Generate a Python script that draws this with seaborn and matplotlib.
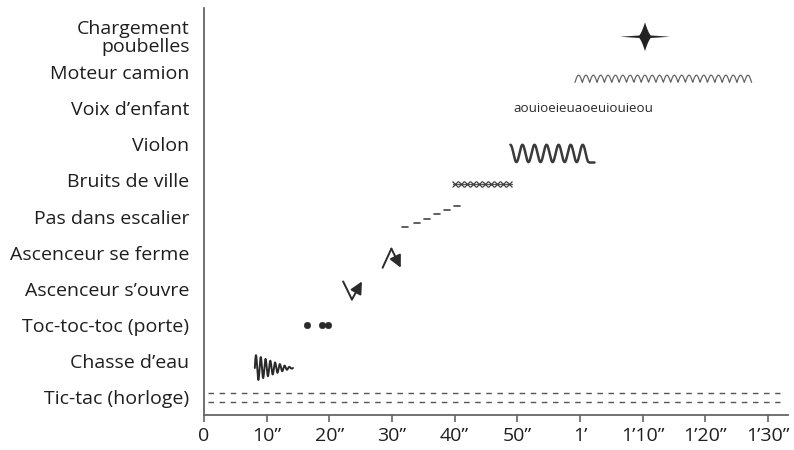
# plot.py - timeline of sounds heard in the sound piece (recreated chart)
import numpy as np
import matplotlib
matplotlib.use("Agg")
import matplotlib.pyplot as plt
import seaborn as sns

# --- data: rows, bottom to top ---
sounds = [
    "Tic-tac (horloge)",
    "Chasse d’eau",
    "Toc-toc-toc (porte)",
    "Ascenceur s’ouvre",
    "Ascenceur se ferme",
    "Pas dans escalier",
    "Bruits de ville",
    "Violon",
    "Voix d’enfant",
    "Moteur camion",
    "Chargement\npoubelles",
]
tick_seconds = [0, 10, 20, 30, 40, 50, 60, 70, 80, 90]
tick_labels = ["0", "10”", "20”", "30”", "40”", "50”", "1’", "1’10”", "1’20”", "1’30”"]

# times in seconds, y offsets in row units
tictac_span = [0.6, 92.0]
tictac_dy = [0.11, -0.14]
flush_span = [8.1, 14.2]
knock_times = [16.5, 18.8, 19.8]
lift_open_t = [22.2, 23.6, 25.2]
lift_open_dy = [0.2, -0.3, 0.2]
lift_close_t = [28.5, 29.9, 31.4]
lift_close_dy = [-0.42, 0.11, -0.42]
steps_t = [32.1, 34.0, 35.6, 37.2, 38.8, 40.4]
steps_dy = [-0.3, -0.17, -0.06, 0.06, 0.19, 0.3]
city_span = [39.7, 49.1]
violin_span = [48.9, 62.2]
voice_start = 49.4
voice_text = "aouioeieuaoeuiouieou"
truck_span = [59.2, 87.4]
bins_time = 70.3
bins_span = [66.3, 74.3]

row = {name: i for i, name in enumerate(sounds)}
INK = "#2a2a2a"
AXIS = "#666666"

sns.set_theme(style="white")
plt.rcParams["font.family"] = ["Open Sans", "DejaVu Sans"]

fig = plt.figure(figsize=(7.94, 4.5), dpi=100)
ax = fig.add_axes([0.257, 0.078, 0.7354, 0.904])

# Tic-tac: two dashed lines across the whole piece
for dy in tictac_dy:
    ax.plot(tictac_span, [row["Tic-tac (horloge)"] + dy] * 2,
            ls=(0, (4, 4)), lw=1.0, color="#555555")

# Chasse d'eau: decaying squiggle
t = np.linspace(0, 1, 300)
amp = 0.36 * (1 - t) ** 1.2 + 0.01
ax.plot(flush_span[0] + (flush_span[1] - flush_span[0]) * t,
        row["Chasse d’eau"] - 0.2 + amp * np.sin(2 * np.pi * 8 * t),
        lw=1.4, color=INK)

# Toc-toc-toc: three dots
sns.scatterplot(x=knock_times, y=[row["Toc-toc-toc (porte)"]] * len(knock_times),
                s=22, color=INK, edgecolor=INK, ax=ax, zorder=3)

# Ascenceur s'ouvre / se ferme: zigzag ending with an arrow
for times, dys, name in [(lift_open_t, lift_open_dy, "Ascenceur s’ouvre"),
                         (lift_close_t, lift_close_dy, "Ascenceur se ferme")]:
    ys = [row[name] + d for d in dys]
    ax.plot(times[:2], ys[:2], lw=1.4, color=INK)
    ax.annotate("", xy=(times[2], ys[2]), xytext=(times[1], ys[1]),
                arrowprops=dict(arrowstyle="-|>,head_length=0.6,head_width=0.3",
                                lw=1.4, color=INK, shrinkA=0, shrinkB=0))

# Pas dans escalier: rising dashes
for tx, dy in zip(steps_t, steps_dy):
    ax.plot([tx - 0.5, tx + 0.5], [row["Pas dans escalier"] + dy] * 2,
            lw=1.2, color="#444444")

# Bruits de ville: hatched band
yc = row["Bruits de ville"] - 0.1
ax.plot(city_span, [yc, yc], lw=0.9, color="#555555")
marks = np.arange(city_span[0] + 0.4, city_span[1], 0.95)
ax.plot(marks, [yc] * len(marks), ls="none", marker="x", ms=4, mew=0.9, color="#444444")

# Violon: regular wave
t = np.linspace(0, 1, 400)
ax.plot(violin_span[0] + (violin_span[1] - 0.8 - violin_span[0]) * t,
        row["Violon"] - 0.25 + 0.24 * np.cos(2 * np.pi * 6.5 * t),
        lw=1.8, color="#3a3a3a")
ax.plot([violin_span[1] - 0.8, violin_span[1]], [row["Violon"] - 0.49] * 2,
        lw=1.8, color="#3a3a3a")

# Voix d'enfant: vowel string
ax.text(voice_start, row["Voix d’enfant"], voice_text, fontsize=9.6,
        va="center", ha="left", color=INK)

# Moteur camion: row of small arches
t = np.linspace(0, 1, 1200)
ax.plot(truck_span[0] + (truck_span[1] - truck_span[0]) * t,
        row["Moteur camion"] - 0.28 + 0.2 * np.abs(np.sin(np.pi * 24 * t)),
        lw=0.9, color="#666666")

# Chargement poubelles: star-like burst
yb = row["Chargement\npoubelles"]
xs = np.linspace(bins_span[0], bins_span[1], 400)
tail = 0.045 * (1 - np.abs(xs - bins_time) / (bins_span[1] - bins_time))
core = 0.4 * np.clip(1 - np.abs(xs - bins_time) / 1.2, 0, None) ** 1.7
half = np.maximum(tail, core)
ax.fill_between(xs, yb - half, yb + half, color="#222222", lw=0)

# --- axes styling ---
ax.set_xlim(0, 93.2)
ax.set_ylim(-0.5, 10.78)
ax.set_yticks(range(len(sounds)))
ax.set_yticklabels(sounds)
ax.set_xticks(tick_seconds)
ax.set_xticklabels(tick_labels)
ax.tick_params(axis="y", length=0, pad=10.5, labelsize=14, labelcolor="#1e1e1e")
ax.tick_params(axis="x", direction="out", length=5, width=1.2, color=AXIS,
               pad=4, labelsize=14, labelcolor="#1e1e1e", bottom=True)
for lbl in ax.get_yticklabels():
    lbl.set_linespacing(0.95)
for side in ["top", "right"]:
    ax.spines[side].set_visible(False)
for side in ["left", "bottom"]:
    ax.spines[side].set_color(AXIS)
    ax.spines[side].set_linewidth(1.3)
ax.set_xlabel("")
ax.set_ylabel("")
ax.grid(False)

fig.savefig("out.png", dpi=100)
plt.close(fig)
# EoF plot.py
